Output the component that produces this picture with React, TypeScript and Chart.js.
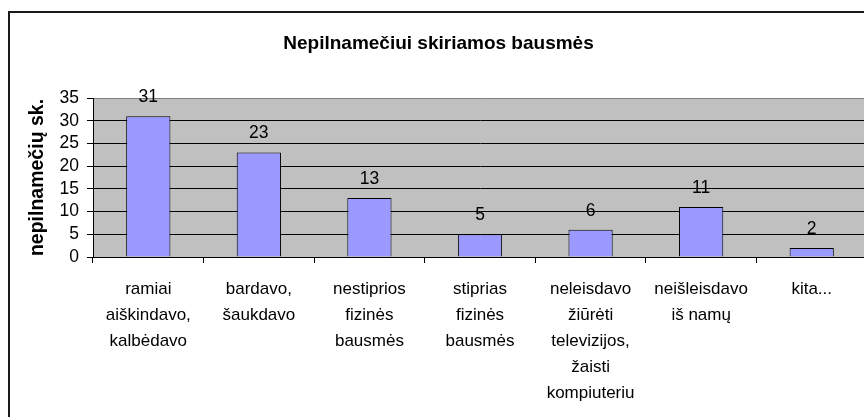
import React, { useEffect, useRef } from "react";
import { Chart, registerables } from "chart.js";

Chart.register(...registerables);

const categories: string[][] = [
  ["ramiai", "aiškindavo,", "kalbėdavo"],
  ["bardavo,", "šaukdavo"],
  ["nestiprios", "fizinės", "bausmės"],
  ["stiprias", "fizinės", "bausmės"],
  ["neleisdavo", "žiūrėti", "televizijos,", "žaisti", "kompiuteriu"],
  ["neišleisdavo", "iš namų"],
  ["kita..."],
];
const values: number[] = [31, 23, 13, 5, 6, 11, 2];
const chartTitle = "Nepilnamečiui skiriamos bausmės";
const yTitle = "nepilnamečių sk.";
const yMin = 0;
const yMax = 35;
const yStep = 5;

const FONT = "'Liberation Sans', Arial, sans-serif";

const plotBg = {
  id: "plotBg",
  beforeDraw(chart: any) {
    const { ctx, chartArea } = chart;
    if (!chartArea) return;
    ctx.save();
    ctx.fillStyle = "#C0C0C0";
    ctx.fillRect(chartArea.left, chartArea.top, chartArea.right - chartArea.left, chartArea.bottom - chartArea.top);
    ctx.restore();
  },
};

const dataLabels = {
  id: "dataLabels",
  afterDatasetsDraw(chart: any) {
    const { ctx } = chart;
    const meta = chart.getDatasetMeta(0);
    ctx.save();
    ctx.font = `17.5px ${FONT}`;
    ctx.fillStyle = "#000";
    ctx.textAlign = "center";
    ctx.textBaseline = "middle";
    meta.data.forEach((bar: any, i: number) => {
      ctx.fillText(String(values[i]), bar.x, bar.y - 19);
    });
    ctx.restore();
  },
};

export default function App() {
  const ref = useRef<HTMLCanvasElement | null>(null);
  useEffect(() => {
    document.body.style.margin = "0";
    document.body.style.overflow = "hidden";
    const canvas = ref.current!;
    const chart = new Chart(canvas, {
      type: "bar",
      data: {
        labels: categories,
        datasets: [
          {
            data: values,
            backgroundColor: "#9999FF",
            borderColor: "#000",
            borderWidth: 1,
            barPercentage: 0.4,
            categoryPercentage: 1,
          },
        ],
      },
      options: {
        responsive: false,
        animation: false,
        devicePixelRatio: 1,
        layout: { padding: { left: 0, right: 23, top: 0, bottom: 0 } },
        plugins: {
          legend: { display: false },
          tooltip: { enabled: false },
          title: {
            display: true,
            text: chartTitle,
            color: "#000",
            font: { family: FONT, size: 19, weight: "bold", lineHeight: 1.2 },
            padding: { top: 19.6, bottom: 42.6 },
          },
        },
        scales: {
          x: {
            offset: true,
            grid: {
              offset: true,
              drawOnChartArea: false,
              drawTicks: true,
              tickLength: 6,
              color: "#000",
            },
            border: { display: true, color: "#000", width: 1 },
            ticks: {
              autoSkip: false,
              maxRotation: 0,
              minRotation: 0,
              color: "#000",
              padding: 13.5,
              font: { family: FONT, size: 17, lineHeight: 1.53 },
            },
            afterFit(scale: any) {
              scale.height = 160;
            },
          },
          y: {
            min: yMin,
            max: yMax,
            ticks: {
              stepSize: yStep,
              autoSkip: false,
              color: "#000",
              padding: 8,
              font: { family: FONT, size: 17.5 },
            },
            grid: {
              color: (c: any) => (c.tick && c.tick.value === yMax ? "#808080" : "#000"),
              tickColor: "#000",
              tickLength: 6,
            },
            border: { display: true, color: "#000", width: 1 },
            title: {
              display: true,
              text: yTitle,
              color: "#000",
              font: { family: FONT, size: 19.5, weight: "bold", lineHeight: 1.2 },
              padding: { top: 16, bottom: 0 },
            },
            afterFit(scale: any) {
              scale.width = 83;
            },
          },
        },
      },
      plugins: [plotBg, dataLabels],
    });
    return () => chart.destroy();
  }, []);
  return (
    <div
      style={{
        position: "fixed",
        left: 8,
        top: 11,
        border: "2px solid #1a1a1a",
        background: "#fff",
        width: 880,
        height: 420,
      }}
    >
      <canvas ref={ref} width={880} height={404} style={{ display: "block" }} />
    </div>
  );
}
